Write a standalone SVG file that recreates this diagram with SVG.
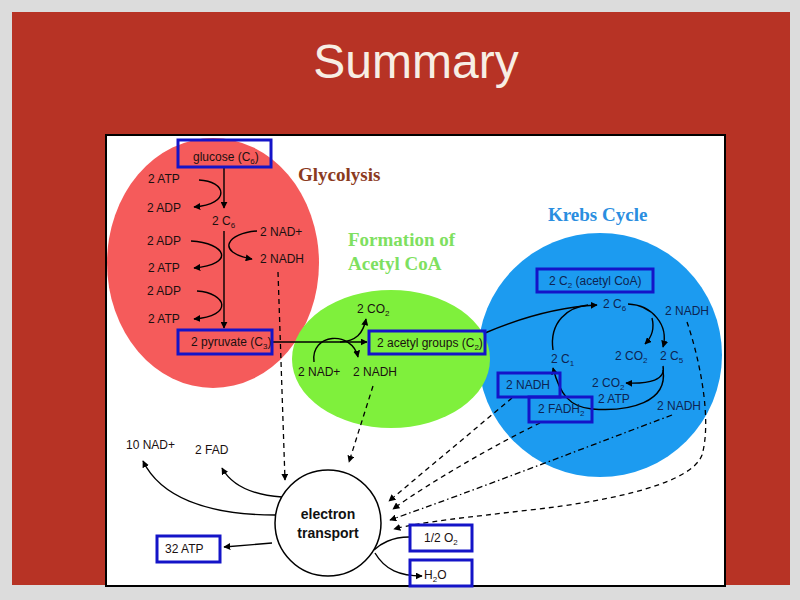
<svg xmlns="http://www.w3.org/2000/svg" width="800" height="600" viewBox="0 0 800 600">
<defs>
<style>
.lbl{font-family:"Liberation Sans",Arial,sans-serif;font-size:12px;fill:#1a1010}
.kl{font-family:"Liberation Sans",Arial,sans-serif;font-size:12px;fill:#0d2452}
.sub{font-size:8px}
.head{font-family:"Liberation Serif","Times New Roman",serif;font-size:19px;font-weight:bold}
.box{fill:none;stroke:#1414c8;stroke-width:3}
.ln{fill:none;stroke:#000;stroke-width:1.4}
.dl{fill:none;stroke:#000;stroke-width:1.3;stroke-dasharray:5,4}
.dd{fill:none;stroke:#000;stroke-width:1.3;stroke-dasharray:6,3,1.5,3}
</style>
<marker id="ah" viewBox="0 0 10 10" refX="9" refY="5" markerWidth="7" markerHeight="7" orient="auto" markerUnits="userSpaceOnUse">
<path d="M0,0 L10,5 L0,10 z" fill="#000"/>
</marker>
</defs>
<rect x="0" y="0" width="800" height="600" fill="#dcdcdc"/>
<rect x="12" y="12" width="778" height="573" fill="#b73325"/>
<text x="416" y="78" text-anchor="middle" font-family="'Liberation Sans',Arial,sans-serif" font-size="48" fill="#f7eee4">Summary</text>
<rect x="106" y="135" width="619" height="451" fill="#fff" stroke="#000" stroke-width="2"/>

<g id="krebs-region"><circle cx="600" cy="355" r="122" fill="#1c9bf0"/></g>
<g id="glycolysis-region"><ellipse cx="213" cy="263" rx="106" ry="125" fill="#f55b5b"/></g>
<g id="acetyl-region"><ellipse cx="391" cy="359" rx="99" ry="69" fill="#7ff03c"/></g>

<g id="headings">
<text x="298" y="181" class="head" fill="#8b3a1e">Glycolysis</text>
<text x="348" y="246" class="head" fill="#7ee060">Formation of</text>
<text x="348" y="270" class="head" fill="#7ee060">Acetyl CoA</text>
<text x="548" y="221" class="head" fill="#2a8ee0">Krebs Cycle</text>
</g>

<g id="connectors">
<path class="ln" d="M224,168 L224,208" marker-end="url(#ah)"/>
<path class="ln" d="M224,231 L224,328" marker-end="url(#ah)"/>
<path class="ln" d="M199,180 C226,181 232,204 194,207" marker-end="url(#ah)"/>
<path class="ln" d="M191,241 C226,243 236,264 194,268" marker-end="url(#ah)"/>
<path class="ln" d="M257,231 C228,233 214,252 252,259" marker-end="url(#ah)"/>
<path class="ln" d="M197,291 C227,293 234,316 194,319" marker-end="url(#ah)"/>
<path class="ln" d="M272,342 L367,342" marker-end="url(#ah)"/>
<path class="ln" d="M340,342 C356,341 363,334 366,319" marker-end="url(#ah)"/>
<path class="ln" d="M314,362 C310,333 352,330 358,357" marker-end="url(#ah)"/>
<path class="ln" d="M485,333 C520,318 560,307 597,305" marker-end="url(#ah)"/>
<path class="ln" d="M553,350 C549,322 568,307 588,305"/>
<path class="ln" d="M628,304 C652,305 669,325 663,347" marker-end="url(#ah)"/>
<path class="ln" d="M652,318 C655,330 651,338 645,344" marker-end="url(#ah)"/>
<path class="ln" d="M663,366 C666,380 650,384 626,383" marker-end="url(#ah)"/>
<path class="ln" d="M663,370 C668,402 630,412 592,409 C570,407 560,395 553,368" marker-end="url(#ah)"/>
<path class="ln" d="M282,497 C252,495 232,486 222,468" marker-end="url(#ah)"/>
<path class="ln" d="M275,515 C205,515 160,496 143,461" marker-end="url(#ah)"/>
<path class="ln" d="M272,543 L224,547" marker-end="url(#ah)"/>
<path class="ln" d="M409,537 C392,537 380,544 374,550" stroke-width="1"/>
<path class="ln" d="M375,553 C385,570 400,576 422,576" marker-end="url(#ah)"/>
<path class="dl" d="M278,272 L285,480" marker-end="url(#ah)"/>
<path class="dl" d="M373,386 L349,462" marker-end="url(#ah)"/>
<path class="dl" d="M512,398 L389,501" marker-end="url(#ah)"/>
<path class="dl" d="M540,423 C500,442 430,482 393,509" marker-end="url(#ah)"/>
<path class="dd" d="M672,415 C600,442 470,492 390,520" marker-end="url(#ah)"/>
<path class="dl" d="M687,322 C700,360 712,420 702,455 C692,482 620,500 530,510 C470,517 420,522 394,529" marker-end="url(#ah)"/>
</g>

<g id="glucose"><rect class="box" x="178" y="140" width="93" height="27"/><text class="lbl" x="193" y="161">glucose (C<tspan class="sub" dy="3">6</tspan><tspan dy="-3">)</tspan></text></g>
<g id="glyco-labels">
<text class="lbl" x="148" y="183">2 ATP</text>
<text class="lbl" x="147" y="212">2 ADP</text>
<text class="lbl" x="212" y="225">2 C<tspan class="sub" dy="3">6</tspan></text>
<text class="lbl" x="260" y="236">2 NAD+</text>
<text class="lbl" x="147" y="245">2 ADP</text>
<text class="lbl" x="260" y="263">2 NADH</text>
<text class="lbl" x="148" y="272">2 ATP</text>
<text class="lbl" x="147" y="295">2 ADP</text>
<text class="lbl" x="148" y="323">2 ATP</text>
</g>
<g id="pyruvate"><rect class="box" x="178" y="330" width="94" height="24"/><text class="lbl" x="191" y="346">2 pyruvate (C<tspan class="sub" dy="3">3</tspan><tspan dy="-3">)</tspan></text></g>

<g id="acetyl-labels">
<text class="lbl" x="357" y="313">2 CO<tspan class="sub" dy="3">2</tspan></text>
<text class="lbl" x="298" y="376">2 NAD+</text>
<text class="lbl" x="353" y="376">2 NADH</text>
</g>
<g id="acetyl-groups"><rect class="box" x="369" y="331" width="116" height="23"/><text class="lbl" x="377" y="347">2 acetyl groups (C<tspan class="sub" dy="3">2</tspan><tspan dy="-3">)</tspan></text></g>

<g id="acetyl-coa"><rect class="box" x="537" y="269" width="116" height="23"/><text class="kl" x="549" y="285">2 C<tspan class="sub" dy="3">2</tspan><tspan dy="-3"> (acetyl CoA)</tspan></text></g>
<g id="krebs-labels">
<text class="kl" x="603" y="308">2 C<tspan class="sub" dy="3">6</tspan></text>
<text class="kl" x="665" y="315">2 NADH</text>
<text class="kl" x="551" y="363">2 C<tspan class="sub" dy="3">1</tspan></text>
<text class="kl" x="615" y="360">2 CO<tspan class="sub" dy="3">2</tspan></text>
<text class="kl" x="660" y="360">2 C<tspan class="sub" dy="3">5</tspan></text>
<text class="kl" x="592" y="387">2 CO<tspan class="sub" dy="3">2</tspan></text>
<text class="kl" x="598" y="403">2 ATP</text>
<text class="kl" x="657" y="410">2 NADH</text>
</g>
<g id="krebs-nadh"><rect class="box" x="498" y="373" width="62" height="24"/><text class="kl" x="506" y="389">2 NADH</text></g>
<g id="krebs-fadh2"><rect class="box" x="529" y="397" width="63" height="25"/><text class="kl" x="538" y="413">2 FADH<tspan class="sub" dy="3">2</tspan></text></g>

<g id="electron-transport">
<circle cx="328" cy="523" r="53" fill="#fff" stroke="#000" stroke-width="1.5"/>
<text x="328" y="519" text-anchor="middle" font-family="'Liberation Sans',Arial,sans-serif" font-size="14" font-weight="bold" fill="#111">electron</text>
<text x="328" y="538" text-anchor="middle" font-family="'Liberation Sans',Arial,sans-serif" font-size="14" font-weight="bold" fill="#111">transport</text>
</g>
<g id="et-labels">
<text class="lbl" x="126" y="449">10 NAD+</text>
<text class="lbl" x="195" y="454">2 FAD</text>
</g>
<g id="atp32"><rect class="box" x="157" y="536" width="63" height="26"/><text class="lbl" x="165" y="553">32 ATP</text></g>
<g id="oxygen"><rect class="box" x="410" y="525" width="62" height="26"/><text class="lbl" x="424" y="542">1/2 O<tspan class="sub" dy="3">2</tspan></text></g>
<g id="water"><rect class="box" x="410" y="560" width="62" height="26"/><text class="lbl" x="424" y="579">H<tspan class="sub" dy="3">2</tspan><tspan dy="-3">O</tspan></text></g>
</svg>
